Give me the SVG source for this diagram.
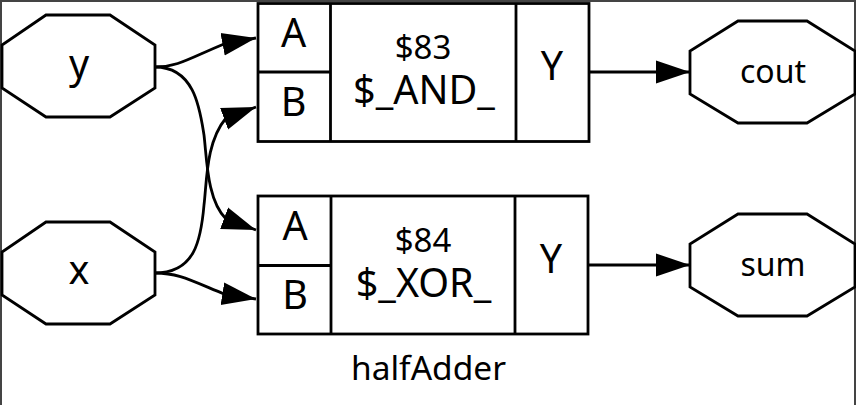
<svg xmlns="http://www.w3.org/2000/svg" width="856" height="405" viewBox="0 0 856 405">
<style>
.s{fill:none;stroke:#000;stroke-width:2.8}
.n{fill:#fff;stroke:#000;stroke-width:2.8}
text{font-family:"Noto Sans","Open Sans",sans-serif;fill:#000;text-anchor:middle}
.l{font-size:39.500px}.m{font-size:33px}.t{font-size:32px}.b{font-size:33.500px}
</style>
<defs><marker id="a" markerUnits="userSpaceOnUse" markerWidth="36" markerHeight="26" refX="34" refY="13" orient="auto"><path d="M0 1.500L34 13L0 24.500Z" fill="#000"/></marker></defs>
<rect width="856" height="405" fill="#fff"/>
<path d="M1 405V1H855V405" fill="none" stroke="#444" stroke-width="2"/>
<g id="connectors">
<path class="s" marker-end="url(#a)" d="M155 67C178 67 190 58 224 44L256 38"/>
<path class="s" marker-end="url(#a)" d="M155 67C195 67 200 110 204 135C207 160 207 200 226 219L256 230"/>
<path class="s" marker-end="url(#a)" d="M155 273C195 273 201 240 204 205C207 180 206 142 226 118L256 107"/>
<path class="s" marker-end="url(#a)" d="M155 273C178 273 190 280 224 294L256 299"/>
<path class="s" marker-end="url(#a)" d="M589 72H690"/>
<path class="s" marker-end="url(#a)" d="M588 265H690"/>
</g>
<g id="y"><polygon class="n" points="155,45 155,88 110,117 46,117 2,88 2,45 46,15 110,15"/><text class="l" x="79" y="78">y</text></g>
<g id="x"><polygon class="n" points="155,252 155,295 110,324 46,324 2,295 2,252 46,222 110,222"/><text class="l" x="79" y="284">x</text></g>
<g id="and"><rect class="n" x="258" y="3.500" width="331" height="138"/><path class="s" d="M258 72H330M330.500 3.500V141.500M516 3.500V141.500"/><text class="l" x="293.500" y="47">A</text><text class="l" x="293.500" y="116">B</text><text class="m" x="423" y="59">$83</text><text class="l" x="424" y="104">$_AND_</text><text class="l" x="552" y="80">Y</text></g>
<g id="xor"><rect class="n" x="258" y="196" width="330" height="138"/><path class="s" d="M258 265.500H331M331 196V334M515 196V334"/><text class="l" x="295" y="240">A</text><text class="l" x="295" y="309">B</text><text class="m" x="423" y="252">$84</text><text class="l" x="423.500" y="297">$_XOR_</text><text class="l" x="551" y="273">Y</text></g>
<g id="cout"><polygon class="n" points="855,51 855,94 807,123 738,123 690,94 690,51 738,21 807,21"/><text class="t" x="773" y="83">cout</text></g>
<g id="sum"><polygon class="n" points="855,244 855,287 807,316 738,316 690,287 690,244 738,214 807,214"/><text class="t" x="773" y="276">sum</text></g>
<text class="b" x="428.500" y="380">halfAdder</text>
</svg>
